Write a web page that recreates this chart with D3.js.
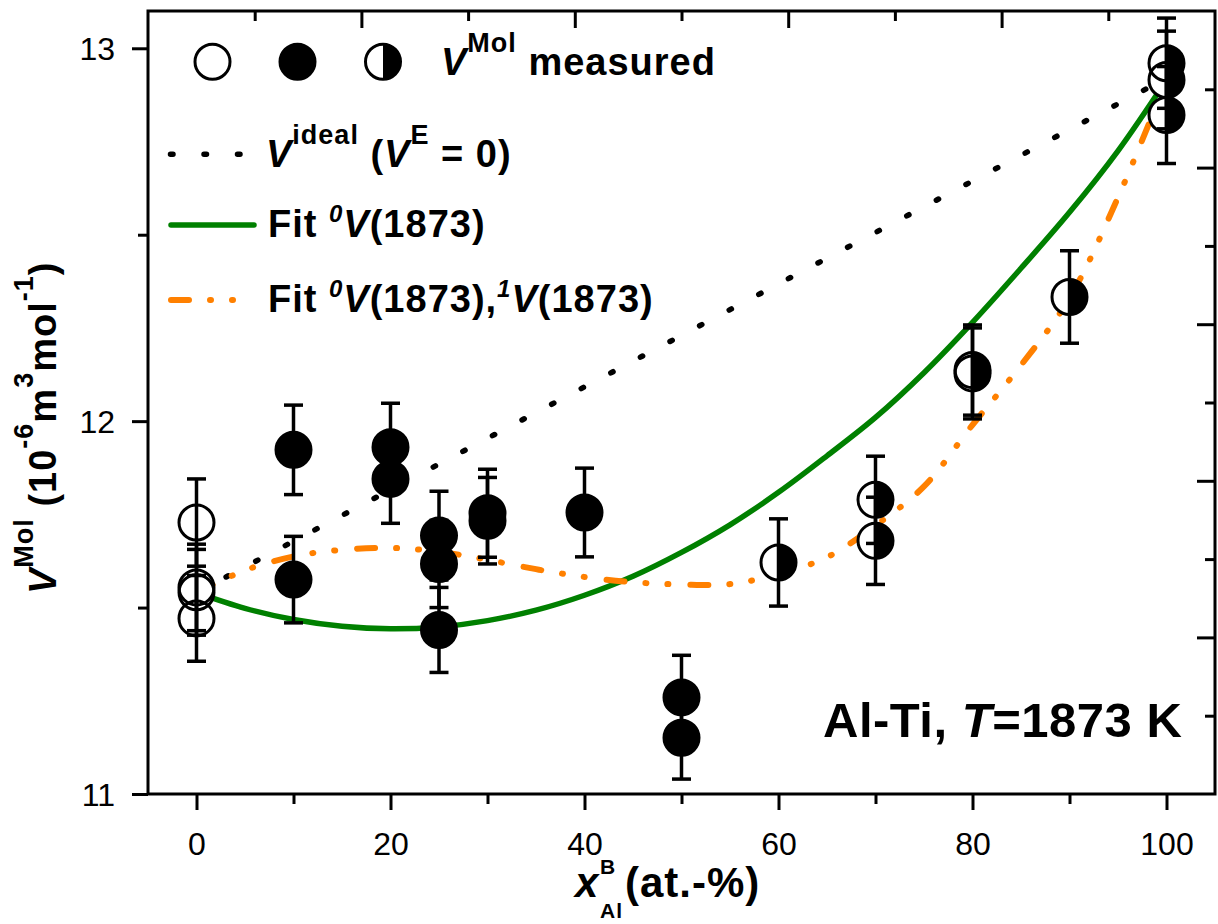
<!DOCTYPE html>
<html>
<head>
<meta charset="utf-8">
<script src="https://cdn.jsdelivr.net/npm/d3@7"></script>
<style>
  html, body { margin: 0; padding: 0; background: #fff; }
  svg { display: block; }
  text { font-family: "Liberation Sans", Arial, Helvetica, sans-serif; }
</style>
</head>
<body>
<svg id="chart" width="1218" height="924"></svg>
<script>
// ---- measured molar volumes (10^-6 m^3/mol) with uncertainties ----
// open symbols
const openX   = [0, 0, 0, 0];
const openV   = [11.728, 11.554, 11.541, 11.471];
const openErr = [0.117, 0.116, 0.115, 0.115];

// filled symbols
const filledX   = [10, 10, 20, 20, 25, 25, 25, 30, 30, 40, 50, 50];
const filledV   = [11.923, 11.575, 11.930, 11.845, 11.693, 11.617, 11.440, 11.753, 11.733, 11.755, 11.259, 11.151];
const filledErr = [0.120, 0.116, 0.118, 0.119, 0.119, 0.117, 0.114, 0.118, 0.116, 0.119, 0.113, 0.111];

// half-filled symbols
const halfX   = [60, 70, 70, 80, 80, 90, 100, 100, 100];
const halfV   = [11.621, 11.789, 11.679, 12.137, 12.128, 12.333, 12.960, 12.915, 12.821];
const halfErr = [0.117, 0.117, 0.117, 0.121, 0.122, 0.124, 0.121, 0.131, 0.130];

// ideal mixing line (V^E = 0)
const idealX = [0, 100];
const idealV = [11.54, 12.92];

// fitted curves
const fitX  = [0, 5, 10, 15, 20, 25, 30, 35, 40, 45, 50, 55, 60, 65, 70, 75, 80, 85, 90, 95, 100];
const fit0V = [11.540, 11.498, 11.468, 11.450, 11.443, 11.448, 11.465, 11.493, 11.533, 11.584, 11.648,
               11.722, 11.809, 11.907, 12.010, 12.130, 12.265, 12.410, 12.560, 12.725, 12.915];
const fit01V = [11.540, 11.600, 11.637, 11.655, 11.660, 11.650, 11.628, 11.603, 11.582, 11.568, 11.562,
                11.563, 11.590, 11.635, 11.720, 11.825, 11.990, 12.150, 12.330, 12.600, 12.915];

// axis ticks
const xMajorTicks = [0, 20, 40, 60, 80, 100];
const xMinorTicks = [10, 30, 50, 70, 90];
const yMajorTicks = [11, 12, 13];
const yMinorTicks = [11.5, 12.5];

// ---- layout ----
const frame = { left: 148, right: 1215, top: 11, bottom: 794 };
const GREEN = "#008000", ORANGE = "#ff8000";

const svg = d3.select("#chart");
svg.append("rect").attr("width", 1218).attr("height", 924).attr("fill", "#fff");

const x = d3.scaleLinear().domain([-5, 105]).range([frame.left, frame.right]);
const y = d3.scaleLinear().domain([11, 13.1]).range([frame.bottom, frame.top]);
// unlabeled secondary axes on top and right
const xTop = d3.scaleLinear().domain([0, 1]).range([frame.left, frame.right]);
const yRight = d3.scaleLinear().domain([0, 1]).range([frame.bottom, frame.top]);

function styleAxis(g) {
  g.select(".domain").remove();
  g.selectAll(".tick line").attr("stroke", "#000").attr("stroke-width", 3);
  g.selectAll(".tick text")
    .attr("fill", "#000")
    .style("font-size", "32px")
    .style("font-family", '"Liberation Sans", Arial, sans-serif');
}

// bottom axis
svg.append("g").attr("transform", `translate(0,${frame.bottom})`)
  .call(d3.axisBottom(x).tickValues(xMinorTicks).tickSize(10).tickFormat(""))
  .call(styleAxis);
svg.append("g").attr("transform", `translate(0,${frame.bottom})`)
  .call(d3.axisBottom(x).tickValues(xMajorTicks).tickSize(16).tickFormat(d3.format("d")))
  .call(styleAxis)
  .call(g => g.selectAll(".tick text").attr("y", 61).attr("dy", 0));

// left axis
svg.append("g").attr("transform", `translate(${frame.left},0)`)
  .call(d3.axisLeft(y).tickValues(yMinorTicks).tickSize(10).tickFormat(""))
  .call(styleAxis);
svg.append("g").attr("transform", `translate(${frame.left},0)`)
  .call(d3.axisLeft(y).tickValues(yMajorTicks).tickSize(16).tickFormat(d3.format("d")))
  .call(styleAxis)
  .call(g => g.selectAll(".tick text").attr("x", -33).attr("dy", "0.36em"));

// top axis (inward ticks)
svg.append("g").attr("transform", `translate(0,${frame.top})`)
  .call(d3.axisTop(xTop).tickValues([0.1, 0.3, 0.5, 0.7, 0.9]).tickSize(-10).tickFormat(""))
  .call(styleAxis);
svg.append("g").attr("transform", `translate(0,${frame.top})`)
  .call(d3.axisTop(xTop).tickValues([0.2, 0.4, 0.6, 0.8]).tickSize(-17).tickFormat(""))
  .call(styleAxis);

// right axis (inward ticks)
svg.append("g").attr("transform", `translate(${frame.right},0)`)
  .call(d3.axisRight(yRight).tickValues([0.1, 0.3, 0.5, 0.7, 0.9]).tickSize(-10).tickFormat(""))
  .call(styleAxis);
svg.append("g").attr("transform", `translate(${frame.right},0)`)
  .call(d3.axisRight(yRight).tickValues([0.2, 0.4, 0.6, 0.8]).tickSize(-18).tickFormat(""))
  .call(styleAxis);

// ---- curves ----
const plot = svg.append("g");
const line = d3.line().x(d => x(d[0])).y(d => y(d[1])).curve(d3.curveCatmullRom.alpha(0.5));

plot.append("path")
  .datum(d3.zip(idealX, idealV))
  .attr("d", d3.line().x(d => x(d[0])).y(d => y(d[1])))
  .attr("fill", "none").attr("stroke", "#000").attr("stroke-width", 5.5)
  .attr("stroke-linecap", "round").attr("stroke-dasharray", "2.5,31");

plot.append("path")
  .datum(d3.zip(fitX, fit0V))
  .attr("d", line)
  .attr("fill", "none").attr("stroke", GREEN).attr("stroke-width", 5.5);

plot.append("path")
  .datum(d3.zip(fitX, fit01V))
  .attr("d", line)
  .attr("fill", "none").attr("stroke", ORANGE).attr("stroke-width", 6)
  .attr("stroke-linecap", "round").attr("stroke-dasharray", "18,21,1,21,1,22");

// ---- measured points ----
const R = 17.5;
const points = []
  .concat(openX.map((d, i) => ({ x: d, v: openV[i], e: openErr[i], kind: "open" })))
  .concat(filledX.map((d, i) => ({ x: d, v: filledV[i], e: filledErr[i], kind: "filled" })))
  .concat(halfX.map((d, i) => ({ x: d, v: halfV[i], e: halfErr[i], kind: "half" })));

const rightHalf = (cx, cy, r) => `M${cx},${cy - r}A${r},${r} 0 0 1 ${cx},${cy + r}Z`;

// white bodies
plot.append("g").selectAll("circle").data(points).join("circle")
  .attr("cx", d => x(d.x)).attr("cy", d => y(d.v)).attr("r", R).attr("fill", "#fff");
// black parts
plot.append("g").selectAll("path").data(points.filter(d => d.kind !== "open")).join("path")
  .attr("d", d => d.kind === "filled"
    ? d3.arc()({ innerRadius: 0, outerRadius: R, startAngle: 0, endAngle: 2 * Math.PI })
    : rightHalf(0, 0, R))
  .attr("transform", d => `translate(${x(d.x)},${y(d.v)})`)
  .attr("fill", "#000");
// outlines
plot.append("g").selectAll("circle").data(points).join("circle")
  .attr("cx", d => x(d.x)).attr("cy", d => y(d.v)).attr("r", R)
  .attr("fill", "none").attr("stroke", "#000").attr("stroke-width", 3);

// error bars
const eb = plot.append("g").attr("stroke", "#000").attr("stroke-width", 3.5);
const CAP = 9.5;
points.forEach(d => {
  const cx = x(d.x), y0 = y(d.v - d.e), y1 = y(d.v + d.e);
  eb.append("line").attr("x1", cx).attr("x2", cx).attr("y1", y0).attr("y2", y1);
  eb.append("line").attr("x1", cx - CAP).attr("x2", cx + CAP).attr("y1", y0).attr("y2", y0);
  eb.append("line").attr("x1", cx - CAP).attr("x2", cx + CAP).attr("y1", y1).attr("y2", y1);
});

// frame
svg.append("rect")
  .attr("x", frame.left).attr("y", frame.top)
  .attr("width", frame.right - frame.left).attr("height", frame.bottom - frame.top)
  .attr("fill", "none").attr("stroke", "#000").attr("stroke-width", 3);

// ---- rich text helper: parts [{t, i, sup, sub, x}] ----
function richText(parent, px, py, parts, size, opts = {}) {
  const supSize = opts.supSize || Math.round(size * 0.7);
  const raise = opts.raise || Math.round(size * 0.6);
  const lower = opts.lower || raise;
  const t = parent.append("text").attr("x", px).attr("y", py)
    .attr("font-size", size).attr("font-weight", "bold").attr("fill", "#000")
    .attr("letter-spacing", opts.spacing != null ? opts.spacing : 1);
  let shift = 0;
  parts.forEach(p => {
    const target = p.sup ? -raise : (p.sub ? lower : 0);
    const s = t.append("tspan").text(p.t)
      .attr("font-size", (p.sup || p.sub) ? supSize : size)
      .attr("font-style", p.i ? "italic" : "normal");
    if (p.x != null) s.attr("x", p.x);
    if (target !== shift) { s.attr("dy", target - shift); shift = target; }
  });
  return t;
}

// ---- legend ----
const leg = svg.append("g");
const legY = 61.7;
leg.append("circle").attr("cx", 212.5).attr("cy", legY).attr("r", R)
  .attr("fill", "#fff").attr("stroke", "#000").attr("stroke-width", 3);
leg.append("circle").attr("cx", 297.5).attr("cy", legY).attr("r", R)
  .attr("fill", "#000").attr("stroke", "#000").attr("stroke-width", 3);
leg.append("circle").attr("cx", 383).attr("cy", legY).attr("r", R)
  .attr("fill", "#fff").attr("stroke", "#000").attr("stroke-width", 3);
leg.append("path").attr("d", rightHalf(383, legY, R)).attr("fill", "#000");
richText(leg, 441, 75, [{ t: "V", i: true }, { t: "Mol", sup: true }, { t: " measured" }], 38);

leg.append("line").attr("x1", 170.5).attr("x2", 241).attr("y1", 154.3).attr("y2", 154.3)
  .attr("stroke", "#000").attr("stroke-width", 5.5).attr("stroke-linecap", "round")
  .attr("stroke-dasharray", "2.5,31");
richText(leg, 266, 166.7, [{ t: "V", i: true }, { t: "ideal", sup: true }, { t: " (" },
  { t: "V", i: true }, { t: "E", sup: true }, { t: " = 0)" }], 38);

leg.append("line").attr("x1", 171).attr("x2", 254).attr("y1", 225).attr("y2", 225)
  .attr("stroke", GREEN).attr("stroke-width", 5.5).attr("stroke-linecap", "round");
richText(leg, 268, 237.3, [{ t: "Fit " }, { t: "0", i: true, sup: true }, { t: "V", i: true },
  { t: "(1873)" }], 38, { supSize: 24, raise: 15 });

leg.append("line").attr("x1", 171).attr("x2", 255).attr("y1", 300).attr("y2", 300)
  .attr("stroke", ORANGE).attr("stroke-width", 6).attr("stroke-linecap", "round")
  .attr("stroke-dasharray", "18,21,1,21,1,22");
richText(leg, 268, 312.3, [{ t: "Fit " }, { t: "0", i: true, sup: true }, { t: "V", i: true },
  { t: "(1873)," }, { t: "1", i: true, sup: true }, { t: "V", i: true }, { t: "(1873)" }], 38,
  { supSize: 24, raise: 15 });

// ---- system annotation ----
richText(svg, 823, 736.7, [{ t: "Al-Ti, " }, { t: "T", i: true }, { t: "=1873 K" }], 49, { spacing: 0.5 });

// ---- axis titles ----
// x label: italic x with stacked superscript B and subscript Al
richText(svg, 575, 897, [
  { t: "x", i: true },
  { t: "B", sup: true, x: 600 },
  { t: "Al", sub: true, x: 600 },
  { t: "(at.-%)", x: 625 }
], 42, { supSize: 21, raise: 23, lower: 21, spacing: 1 });

const yl = svg.append("g").attr("transform", "translate(56,594) rotate(-90)");
richText(yl, 0, 0, [{ t: "V", i: true }, { t: "Mol", sup: true }, { t: " (10" }, { t: "-6", sup: true },
  { t: "m" }, { t: "3", sup: true }, { t: "mol" }, { t: "-1", sup: true }, { t: ")" }], 38);
</script>
</body>
</html>
